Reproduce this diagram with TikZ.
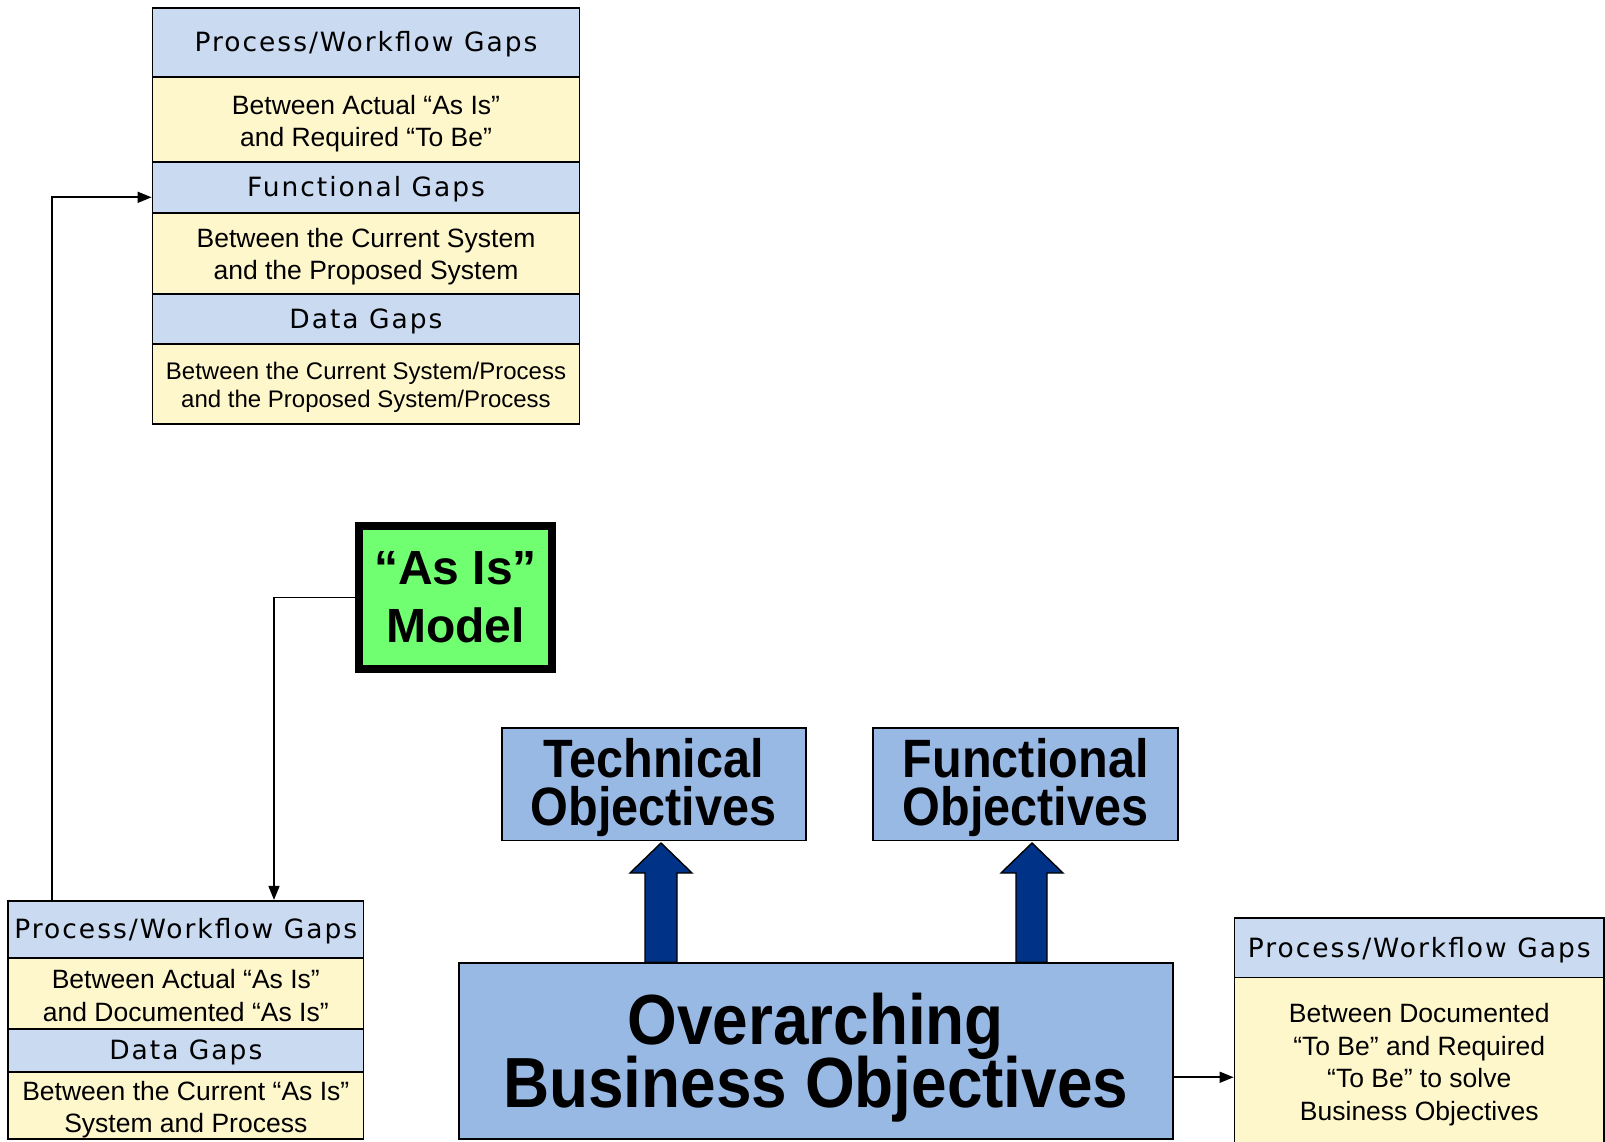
\documentclass[tikz,border=0pt]{standalone}
\usepackage{fontspec}
\setmainfont{Liberation Sans}
\newfontfamily\hdrfont{DejaVu Sans}[LetterSpace=7.5]
\newfontfamily\condfont{Liberation Sans}[FakeStretch=0.9]
\usetikzlibrary{arrows.meta}
\newcommand\tightlines{\lineskiplimit=-100pt\relax}
% zero-width strut on a first line: pushes the text block down inside its box
\newcommand\lift[1]{\rule{0pt}{#1}}

\definecolor{hdrblue}{RGB}{201,218,241}
\definecolor{noteyellow}{RGB}{255,247,204}
\definecolor{objblue}{RGB}{153,185,229}
\definecolor{navyfill}{RGB}{0,51,136}
\definecolor{modelgreen}{RGB}{112,255,112}

\tikzset{
  cell/.style={draw=black, line width=1.8pt, rectangle, inner sep=0pt, align=center},
  hdrcell/.style={cell, fill=hdrblue, font=\hdrfont\fontsize{26.5}{31}\selectfont,
                  text height=19pt, text depth=0pt},
  notecell/.style={cell, fill=noteyellow, font=\fontsize{26.5}{32.5}\selectfont},
  smallnote/.style={cell, fill=noteyellow, font=\fontsize{24}{28.5}\selectfont},
  objbox/.style={cell, fill=objblue,
                 font=\condfont\bfseries\fontsize{54}{48}\selectfont\tightlines},
  conn/.style={draw=black, line width=1.6pt, -{Triangle[length=14pt,width=11pt]}},
  liftarrow/.style={draw=black, line width=1.4pt, fill=navyfill, line join=miter},
}

\begin{document}
\begin{tikzpicture}[x=1pt, y=-1pt]
\useasboundingbox (0,0) rectangle (1605,1142);

% upper gap stack
\node[hdrcell, minimum width=427pt, minimum height=68.6pt] (h1) at (366,42.5) {Process/Workflow Gaps};
\node[notecell, minimum width=427pt, minimum height=84.9pt] (y1) at (366,119.25) {\lift{28.5pt}Between Actual “As Is”\\ and Required “To Be”};
\node[hdrcell, minimum width=427pt, minimum height=51.2pt] (h2) at (366,187.3) {Functional Gaps};
\node[notecell, minimum width=427pt, minimum height=80.9pt] (y2) at (366,253.35) {\lift{25.5pt}Between the Current System\\ and the Proposed System};
\node[hdrcell, minimum width=427pt, minimum height=50.1pt] (h3) at (366,318.85) {Data Gaps};
\node[smallnote, minimum width=427pt, minimum height=79.9pt] (y3) at (366,383.85) {\lift{24.5pt}Between the Current System/Process\\ and the Proposed System/Process};

% lower-left gap stack
\node[hdrcell, minimum width=355.2pt, minimum height=57.3pt] (bh1) at (185.8,929.45) {Process/Workflow Gaps};
\node[notecell, minimum width=355.2pt, minimum height=70.6pt] (by1) at (185.8,993.4) {\lift{23.5pt}Between Actual “As Is”\\ and Documented “As Is”};
\node[hdrcell, minimum width=355.2pt, minimum height=43pt] (bh2) at (185.8,1050.2) {Data Gaps};
\node[notecell, minimum width=355.2pt, minimum height=67.6pt] (by2) at (185.8,1105.5) {\lift{27.5pt}Between the Current “As Is”\\ System and Process};

% right gap stack (runs off the lower edge)
\node[hdrcell, minimum width=369.5pt, minimum height=59.5pt] (rh) at (1419.25,947.75) {Process/Workflow Gaps};
\node[notecell, minimum width=369.5pt, minimum height=174.5pt] (ry) at (1419.25,1064.75) {Between Documented\\ “To Be" and Required\\ “To Be” to solve\\ Business Objectives};

% model and objectives
\node[draw=black, line width=8pt, fill=modelgreen, minimum width=192.6pt, minimum height=143.5pt,
      inner sep=0pt, align=center, font=\bfseries\fontsize{48}{58}\selectfont] (asis) at (455.5,597.5) {“As Is”\\ Model};
\node[objbox, minimum width=304pt, minimum height=112.6pt] (tech) at (653.6,784.1) {\lift{46.5pt}Technical\\ Objectives};
\node[objbox, minimum width=305pt, minimum height=112.6pt] (func) at (1025.65,784.1) {\lift{46.5pt}Functional\\ Objectives};
\node[objbox, minimum width=714.4pt, minimum height=176pt,
      font=\condfont\bfseries\fontsize{71}{62.5}\selectfont\tightlines] (over) at (815.8,1051.25) {\lift{64.5pt}Overarching\\ Business Objectives};

% block arrows from the overarching objectives
\filldraw[liftarrow] (645,0 |- over.north) -- (645,873) -- (630,873) -- (661,843) -- (692,873) -- (677,873) -- (677,0 |- over.north) -- cycle;
\filldraw[liftarrow] (1016,0 |- over.north) -- (1016,873) -- (1001,873) -- (1032,843) -- (1063,873) -- (1047,873) -- (1047,0 |- over.north) -- cycle;

% connectors
\draw[conn] (asis.west) -| (274,0 |- bh1.north);
\draw[conn] (52,0 |- bh1.north) |- ([yshift=-10pt]h2.west);
\coordinate (rj) at ([yshift=-26pt]over.east);
\draw[conn] (rj) -- (rj -| ry.west);
\end{tikzpicture}
\end{document}
